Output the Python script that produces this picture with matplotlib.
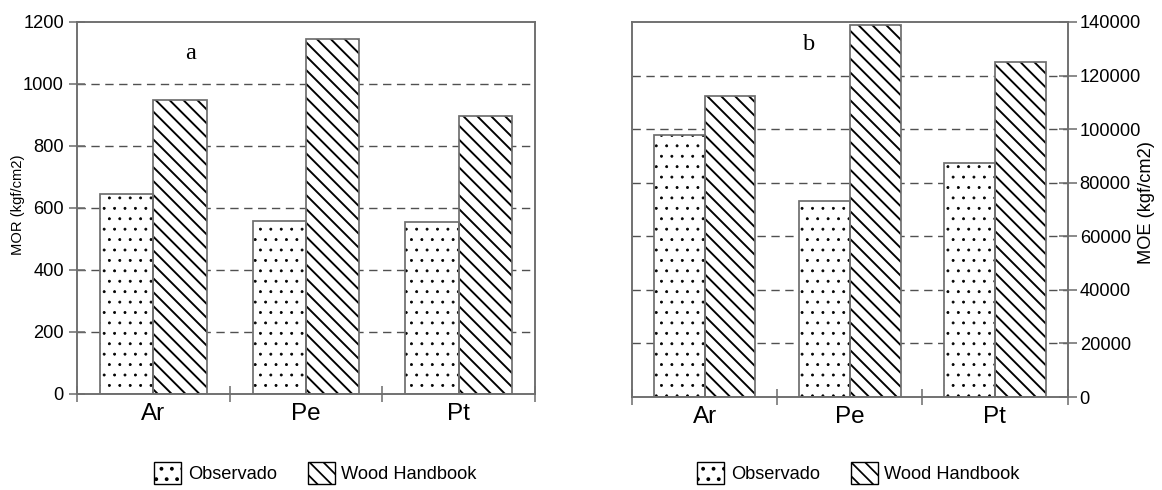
import matplotlib
matplotlib.use("Agg")
import matplotlib.pyplot as plt
from matplotlib.patches import Patch
import numpy as np

# ---- data ----
categories = ["Ar", "Pe", "Pt"]
series_names = ["Observado", "Wood Handbook"]
mor_observado = [645, 558, 555]
mor_handbook = [948, 1144, 898]
moe_observado = [97800, 73200, 87500]
moe_handbook = [112500, 138800, 125200]
mor_ticks = [0, 200, 400, 600, 800, 1000, 1200]
moe_ticks = [0, 20000, 40000, 60000, 80000, 100000, 120000, 140000]

DPI = 125
W, H = 1162, 490
plt.rcParams["font.family"] = ["Liberation Sans", "DejaVu Sans"]
plt.rcParams["hatch.color"] = "black"

fig = plt.figure(figsize=(W / DPI, H / DPI), dpi=DPI)

def px(x0, y0, x1, y1):
    return [x0 / W, 1 - y1 / H, (x1 - x0) / W, (y1 - y0) / H]

axL = fig.add_axes(px(77, 22, 535, 394))
axR = fig.add_axes(px(632, 22, 1067.5, 397))

hatches = ["..", "\\\\\\"]
hatch_lw = [0.45, 1.1]
spine_col = "#6e6e6e"
grid_col = "#505050"
bw = 0.35

def draw_panel(ax, obs, hb, ticks):
    x = np.arange(len(categories))
    for i, (vals, h, hl) in enumerate(zip([obs, hb], hatches, hatch_lw)):
        xs = x + (i - 0.5) * bw
        with plt.rc_context({"hatch.linewidth": hl}):
            ax.bar(xs, vals, bw, color="white", edgecolor="black", hatch=h,
                   linewidth=0, zorder=2)
        ax.bar(xs, vals, bw, fill=False, edgecolor=spine_col, linewidth=1.0,
               zorder=3)
    ax.set_xlim(-0.5, len(categories) - 0.5)
    ax.set_ylim(ticks[0], ticks[-1])
    ax.set_yticks(ticks)
    for t in ticks[1:-1]:
        ax.axhline(t, color=grid_col, lw=0.8, ls=(0, (6, 4)), zorder=1)
    ax.set_xticks(np.arange(len(categories) + 1) - 0.5)
    ax.set_xticklabels([])
    ax.set_xticks(x, minor=True)
    ax.set_xticklabels(categories, minor=True, fontsize=14)
    ax.tick_params(axis="x", which="major", direction="inout", length=9,
                   width=0.9, color=spine_col)
    ax.tick_params(axis="x", which="minor", length=0, pad=5)
    for s in ax.spines.values():
        s.set_color(spine_col)
        s.set_linewidth(1.1)

draw_panel(axL, mor_observado, mor_handbook, mor_ticks)
axL.tick_params(axis="y", direction="inout", length=9, width=0.9,
                color=spine_col, labelsize=10.5, pad=3)
axL.set_ylabel("MOR (kgf/cm2)", fontsize=8.5)
axL.yaxis.set_label_coords(-0.113, 0.51)
axL.text(0.248, 0.90, "a", transform=axL.transAxes, ha="center",
         va="baseline", fontsize=14, family="Liberation Serif")

draw_panel(axR, moe_observado, moe_handbook, moe_ticks)
axR.yaxis.tick_right()
axR.yaxis.set_label_position("right")
axR.tick_params(axis="y", direction="inout", length=10, width=0.9,
                color=spine_col, labelsize=10.5, pad=2)
axR.set_ylabel("MOE (kgf/cm2)", fontsize=10.5)
axR.yaxis.set_label_coords(1.163, 0.52)
axR.text(0.407, 0.925, "b", transform=axR.transAxes, ha="center",
         va="baseline", fontsize=14, family="Liberation Serif")

def make_legend(x0, y0):
    handles = []
    for h, hl in zip(hatches, hatch_lw):
        with plt.rc_context({"hatch.linewidth": hl}):
            handles.append(Patch(facecolor="white", edgecolor="black", hatch=h,
                                 linewidth=0.8))
    fig.legend(handles, series_names, loc="upper left",
               bbox_to_anchor=(x0 / W, 1 - y0 / H), ncol=2, frameon=False,
               fontsize=10.5, handlelength=1.5, handleheight=1.5,
               handletextpad=0.35, columnspacing=1.7, borderpad=0,
               borderaxespad=0)

make_legend(154, 462)
make_legend(697, 462)

fig.savefig("out.png", dpi=DPI)
